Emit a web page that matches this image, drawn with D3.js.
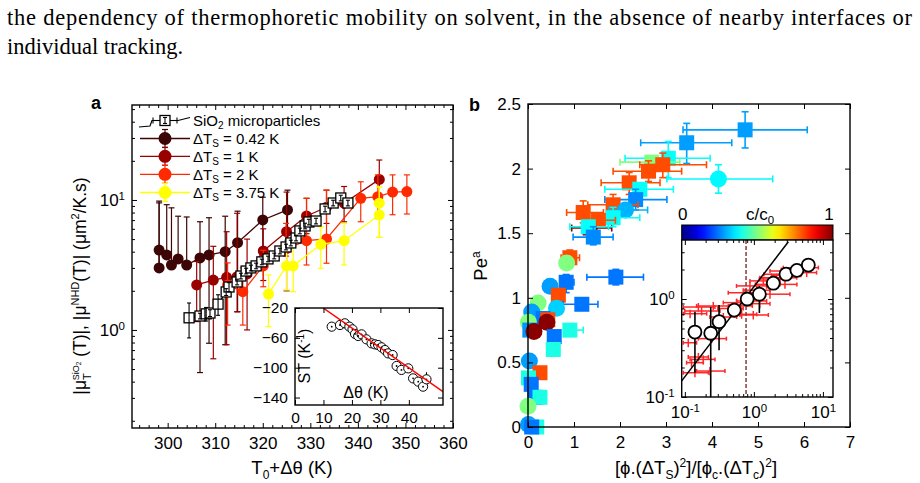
<!DOCTYPE html>
<html>
<head>
<meta charset="utf-8">
<script src="https://cdn.jsdelivr.net/npm/d3@7"></script>
<style>
  body { margin: 0; background: #fff; }
  svg { display: block; font-family: "Liberation Sans", Arial, Helvetica, sans-serif; }
</style>
</head>
<body>
<svg id="fig" width="920" height="483"></svg>
<script>
// ---- panel a: SiO2 microparticles ----
const sio2T = [304.5, 306.8, 308.1, 308.9, 310.6, 312.3, 312.9, 314.6, 315.4, 316.5, 317.5, 318.6, 319.8, 321.1,
  322.4, 323.6, 324.9, 325.9, 327.0, 327.8, 328.9, 329.7, 331.2, 333.1, 334.8, 336.4, 337.9];
const sio2Mu = [1.24, 1.28, 1.33, 1.35, 1.58, 1.96, 2.14, 2.34, 2.60, 2.84, 3.00, 3.11, 3.34, 3.52,
  3.71, 4.05, 4.35, 4.67, 5.10, 5.78, 6.31, 6.77, 6.89, 8.53, 9.48, 10.36, 9.48];
const sio2Err = [0.3, 0.05, 0.12, 0.06, 0.18, 0.06, 0.08, 0.05, 0.05, 0.05, 0.05, 0.05, 0.05, 0.05,
  0.05, 0.05, 0.05, 0.05, 0.05, 0.05, 0.05, 0.05, 0.05, 0.05, 0.05, 0.05, 0.05];

// ---- panel a: NHD at several ΔTs ----
const dTsLabels = ['0.42', '1', '2', '3.75'];
const dTsColors = ['#3d0505', '#990000', '#ff2a00', '#ffff00'];

const nhd042T = [298.2, 298.2, 299.8, 300.8, 302.2, 304.0, 306.8, 308.7, 312.1, 314.7, 320.0, 325.2];
const nhd042Mu = [3.00, 4.12, 3.78, 3.16, 3.52, 3.16, 3.58, 3.78, 4.00, 4.69, 7.02, 8.38];
const nhd042Hi = [9.8, 9.5, 9.2, 8.7, 7.5, 7.4, 6.8, 7.3, 7.5, 8.2, 10.5, 11.9];
const nhd042Lo = [0, 0, 0, 0, 0, 0, 0.47, 0.79, 0.77, 1.38, 3.5, 4.9];

const nhd1T = [306.1, 309.6, 312.4, 314.6, 316.7, 320.1, 325.0, 329.2, 333.4, 337.1, 344.5];
const nhd1Mu = [2.22, 2.42, 2.54, 2.57, 2.70, 4.05, 5.70, 7.53, 8.79, 9.44, 14.4];
const nhd1Hi = [3.36, 4.4, 5.7, 7.9, 5.0, 6.0, 11.5, 10.3, 11.9, 12.7, 20.3];
const nhd1Lo = [1.16, 0.6, 0.77, 1.38, 1.0, 2.4, 2.0, 5.5, 6.6, 6.8, 10.5];

const nhd2T = [312.6, 315.8, 320.1, 324.9, 329.2, 333.4, 340.6, 344.2, 347.3, 350.3];
const nhd2Mu = [2.22, 1.97, 3.11, 4.20, 4.86, 5.01, 10.3, 10.6, 11.5, 11.6];
const nhd2Hi = [3.28, 3.0, 4.1, 6.6, 10.3, 11.9, 13.8, 15.6, 15.6, 15.6];
const nhd2Lo = [1.09, 1.09, 2.15, 3.7, 3.16, 3.26, 6.8, 7.2, 7.7, 7.8];

const nhd375T = [321.2, 325.0, 326.4, 332.2, 337.1, 344.5, 344.5];
const nhd375Mu = [1.89, 3.11, 3.11, 4.56, 4.86, 7.67, 9.44];
const nhd375Hi = [2.65, 4.4, 4.5, 6.2, 6.6, 12.6, 12.6];
const nhd375Lo = [1.06, 2.03, 1.97, 2.98, 3.16, 5.16, 5.16];

// ---- panel a inset: Soret coefficient ----
const insetDtheta = [12.9, 15.8, 17.5, 19.1, 20.2, 21.1, 22.2, 23.4, 25.1, 26.9, 28.1, 29.2, 30.4, 31.6,
  32.7, 34.3, 35.7, 37.4, 39.8, 41.5, 43.3, 45.0, 46.2];
const insetST = [-45, -42.8, -40.5, -45, -48.6, -54.8, -57.5, -55.3, -62, -67.4, -68.7, -69.6, -72.7, -76.3,
  -80.8, -83, -97.7, -103, -100.9, -114.3, -118.7, -125.4, -115.6];
const insetFitX = [9.9, 52];
const insetFitY = [-20, -132];

// ---- panel b: Pe^a vs scaled forcing ----
const peX = [1.35, 4.72, 3.45, 4.14, 3.05, 2.69, 2.93, 2.62, 2.20, 2.43, 2.34, 1.85, 2.12, 1.85, 1.20, 1.53, 1.31, 1.42,
  0.91, 0.84, 0.83, 1.91, 0.48, 0.66, 1.17, 0.22, 0.62, 0.08, 0.33, 0.43, 0.41, 0.01, 0.04, 0.13, 0.57, 0.91, 0.55,
  0.03, 0.26, 0.01, 0.07, 0.15, 0.26, 0.0, 0.01, 0.19, 0.08];
const peY = [1.54, 2.30, 2.20, 1.92, 2.08, 2.05, 2.03, 1.98, 1.89, 1.84, 1.76, 1.72, 1.68, 1.62, 1.66, 1.60, 1.55, 1.47,
  1.31, 1.27, 1.12, 1.16, 1.09, 1.02, 0.95, 0.96, 0.92, 0.89, 0.84, 0.83, 0.81, 0.81, 0.75, 0.74, 0.70, 0.75, 0.60,
  0.51, 0.42, 0.38, 0.33, 0.23, 0.23, 0.16, 0.02, 0.0, 0.0];
const peC = [0.99, 0.28, 0.28, 0.37, 0.38, 0.50, 0.80, 0.80, 0.80, 0.38, 0.26, 0.80, 0.30, 0.38, 0.80, 0.80, 0.38, 0.26,
  0.80, 0.50, 0.24, 0.24, 0.28, 0.80, 0.24, 0.50, 0.33, 0.28, 0.24, 0.80, 0.99, 0.50, 0.27, 0.99, 0.24, 0.40, 0.40,
  0.28, 0.80, 0.40, 0.24, 0.24, 0.40, 0.50, 0.28, 0.40, 0.24];
const peShape = ['s', 's', 's', 'o', 's', 's', 's', 's', 's', 's', 's', 's', 'o', 's', 's', 's', 's', 's',
  's', 'o', 's', 's', 'o', 's', 's', 'o', 'o', 'o', 's', 's', 'o', 'o', 's', 'o', 's', 's', 's',
  'o', 's', 's', 's', 's', 's', 'o', 'o', 's', 's'];
const peXlo = [0.95, 3.37, 2.45, 3.02, 2.11, 2.0, 2.43, 1.85, 1.59, 1.67, 1.67, 1.30, 1.75, 1.30, 0.84, 1.2, 0.91, 0.98,
  0.72, null, 0.72, 1.28, null, null, 0.76, null, null, null, null, null, null, null, null, null, null, 0.8, null,
  null, null, null, null, null, null, null, null, null, null];
const peXhi = [1.82, 6.07, 4.43, 5.32, 3.96, 3.3, 3.88, 3.34, 2.87, 3.16, 3.02, 2.39, 2.6, 2.43, 1.64, 1.9, 1.75, 1.85,
  1.12, null, 1.0, 2.51, null, null, 1.52, null, null, null, null, null, null, null, null, null, null, 1.2, null,
  null, null, null, null, null, null, null, null, null, null];
const peYlo = [null, 2.16, 2.04, 1.81, 1.93, null, 1.93, 1.90, 1.80, null, 1.68, 1.64, null, 1.55, 1.58, null, null, 1.41,
  1.25, null, 1.04, 1.10, null, null, null, null, null, null, null, null, null, null, null, null, null, null, null,
  null, null, null, null, null, null, null, null, null, null];
const peYhi = [null, 2.44, 2.35, 2.03, 2.21, null, 2.12, 2.06, 1.97, null, 1.84, 1.80, null, 1.70, 1.75, null, null, 1.55,
  1.37, null, 1.18, 1.22, null, null, null, null, null, null, null, null, null, null, null, null, null, null, null,
  null, null, null, null, null, null, null, null, null, null];

// ---- panel b inset: log-log ----
const redX = [0.140, 0.231, 0.125, 0.185, 0.157, 0.112, 0.244, 0.119, 0.175, 0.258, 0.361, 0.157, 0.665, 0.98, 0.562,
  0.877, 1.22, 1.71, 0.743, 0.877, 1.37, 2.14, 3.33, 4.92, 5.82, 1.53, 2.82, 2.39, 1.10, 1.9, 3.0, 4.0, 0.45, 0.65];
const redY = [0.177, 0.184, 0.224, 0.242, 0.256, 0.358, 0.394, 0.708, 0.755, 0.849, 0.655, 0.828, 0.698, 0.687, 0.918,
  0.955, 0.896, 1.12, 1.16, 1.36, 1.53, 1.65, 1.93, 2.09, 1.86, 1.41, 1.41, 1.79, 1.23, 1.6, 1.75, 2.0, 0.80, 0.85];
const redXlo = [0.095, 0.148, 0.106, 0.119, 0.112, 0.095, 0.157, 0.095, 0.100, 0.148, 0.231, 0.095, 0.451, 0.628, 0.36,
  0.562, 0.877, 1.22, 0.425, 0.56, 0.877, 1.22, 1.71, 2.67, 3.33, 1.05, 1.71, 1.4, 0.7, 1.2, 1.8, 2.5, 0.3, 0.45];
const redXhi = [0.219, 0.381, 0.185, 0.273, 0.219, 0.148, 0.40, 0.207, 0.323, 0.426, 0.562, 0.273, 1.10, 1.62, 0.877,
  1.53, 1.71, 3.33, 1.37, 1.53, 2.39, 4.17, 6.5, 8.6, 8.1, 2.39, 4.2, 4.0, 1.71, 3.0, 4.8, 6.5, 0.7, 0.95];
const redYrel = 0.1;
const binX = [0.140, 0.237, 0.313, 0.52, 0.80, 1.2, 1.91, 2.92, 4.2, 6.15];
const binY = [0.46, 0.447, 0.587, 0.77, 1.0, 1.12, 1.45, 1.79, 1.96, 2.22];
const binLo = [0.177, 0.08, 0.30, 0.655, 0.93, 0.72, 1.38, 1.72, 1.9, 2.16];
const binHi = [0.74, 0.83, 0.87, 0.87, 1.08, 1.36, 1.52, 1.86, 2.02, 2.28];
const fitX = [0.09, 3.16];
const fitY = [0.146, 3.84];
const critX = 0.77;

// ---------------------------------------------------------------
const svg = d3.select('#fig');
const tickFont = '17px';
const titleFont = '18.5px';

function jet(c) {
  const f = v => Math.max(0, Math.min(1, 1.5 - Math.abs(v)));
  return d3.rgb(255 * f(4 * c - 3), 255 * f(4 * c - 2), 255 * f(4 * c - 1)).formatHex();
}

function logMinors(lo, hi) {
  const out = [];
  for (let e = -3; e <= 3; e++) {
    for (let m = 2; m <= 9; m++) {
      const v = m * Math.pow(10, e);
      if (v > lo && v < hi) out.push(v);
    }
  }
  return out;
}

// inward ticks on all four sides, labels on bottom/left only
function frame(g, x, y, box, xMajor, xMinor, yMajor, yMinor, xFmt, yFmt, fs) {
  const styleAxis = sel => {
    sel.select('.domain').remove();
    sel.selectAll('.tick line').attr('stroke', '#000').attr('stroke-width', 1);
    sel.selectAll('.tick text').attr('fill', '#000').style('font-size', fs || tickFont);
  };
  g.append('g').attr('class', 'ax-bottom').attr('transform', `translate(0,${box.b})`)
    .call(d3.axisBottom(x).tickValues(xMajor).tickSize(-5).tickPadding(9).tickFormat(xFmt)).call(styleAxis);
  g.append('g').attr('transform', `translate(0,${box.b})`)
    .call(d3.axisBottom(x).tickValues(xMinor).tickSize(-3).tickFormat('')).call(styleAxis);
  g.append('g').attr('transform', `translate(0,${box.t})`)
    .call(d3.axisTop(x).tickValues(xMajor).tickSize(-5).tickFormat('')).call(styleAxis);
  g.append('g').attr('transform', `translate(0,${box.t})`)
    .call(d3.axisTop(x).tickValues(xMinor).tickSize(-3).tickFormat('')).call(styleAxis);
  g.append('g').attr('class', 'ax-left').attr('transform', `translate(${box.l},0)`)
    .call(d3.axisLeft(y).tickValues(yMajor).tickSize(-5).tickPadding(7).tickFormat(yFmt)).call(styleAxis);
  g.append('g').attr('transform', `translate(${box.l},0)`)
    .call(d3.axisLeft(y).tickValues(yMinor).tickSize(-3).tickFormat('')).call(styleAxis);
  g.append('g').attr('transform', `translate(${box.r},0)`)
    .call(d3.axisRight(y).tickValues(yMajor).tickSize(-5).tickFormat('')).call(styleAxis);
  g.append('g').attr('transform', `translate(${box.r},0)`)
    .call(d3.axisRight(y).tickValues(yMinor).tickSize(-3).tickFormat('')).call(styleAxis);
  g.append('rect').attr('x', box.l).attr('y', box.t)
    .attr('width', box.r - box.l).attr('height', box.b - box.t)
    .attr('fill', 'none').attr('stroke', '#000').attr('stroke-width', 1.4);
}

function powerLabels(axisG) {
  axisG.selectAll('.tick text').each(function (d) {
    const e = Math.round(Math.log10(d));
    const t = d3.select(this);
    t.text('10');
    t.append('tspan').attr('dy', '-0.55em').style('font-size', '11.5px').text(e);
  });
}

function bar(g, x1, y1, x2, y2, color, w) {
  g.append('line').attr('x1', x1).attr('y1', y1).attr('x2', x2).attr('y2', y2)
    .attr('stroke', color).attr('stroke-width', w);
}

// vertical error bar with caps; lower end dropped when not positive on log axes
function vErr(g, px, yPx, loPx, hiPx, color, cap, w) {
  if (hiPx != null) { bar(g, px, yPx, px, hiPx, color, w); bar(g, px - cap, hiPx, px + cap, hiPx, color, w); }
  if (loPx != null) { bar(g, px, yPx, px, loPx, color, w); bar(g, px - cap, loPx, px + cap, loPx, color, w); }
}
function hErr(g, py, loPx, hiPx, color, cap, w) {
  bar(g, loPx, py, hiPx, py, color, w);
  bar(g, loPx, py - cap, loPx, py + cap, color, w);
  bar(g, hiPx, py - cap, hiPx, py + cap, color, w);
}

// ---------------- top text ----------------
svg.append('text').attr('x', 7).attr('y', 25)
  .attr('textLength', 905).attr('lengthAdjust', 'spacing')
  .style('font-family', '"Liberation Serif", "Times New Roman", serif').style('font-size', '22.5px')
  .text('the dependency of thermophoretic mobility on solvent, in the absence of nearby interfaces or');
svg.append('text').attr('x', 7).attr('y', 54)
  .style('font-family', '"Liberation Serif", "Times New Roman", serif').style('font-size', '22.5px')
  .text('individual tracking.');

// ---------------- panel a ----------------
const boxA = { l: 132, r: 453, t: 105, b: 428 };
const xA = d3.scaleLinear().domain([292.5, 360]).range([boxA.l, boxA.r]);
const yA = d3.scaleLog().domain([0.176, 53.8]).range([boxA.b, boxA.t]);

const gA = svg.append('g');
gA.append('clipPath').attr('id', 'clipA').append('rect')
  .attr('x', boxA.l).attr('y', boxA.t).attr('width', boxA.r - boxA.l).attr('height', boxA.b - boxA.t);
const plotA = gA.append('g').attr('clip-path', 'url(#clipA)');

const nhdSeries = [
  { T: nhd042T, mu: nhd042Mu, lo: nhd042Lo, hi: nhd042Hi },
  { T: nhd1T, mu: nhd1Mu, lo: nhd1Lo, hi: nhd1Hi },
  { T: nhd2T, mu: nhd2Mu, lo: nhd2Lo, hi: nhd2Hi },
  { T: nhd375T, mu: nhd375Mu, lo: nhd375Lo, hi: nhd375Hi }
];
const lineA = d3.line().x(d => xA(d[0])).y(d => yA(d[1]));

nhdSeries.forEach((s, k) => {
  const col = dTsColors[k];
  const sg = plotA.append('g');
  s.T.forEach((t, i) => {
    vErr(sg, xA(t), yA(s.mu[i]), s.lo[i] > 0 ? yA(s.lo[i]) : null, yA(s.hi[i]), col, 3, 1.2);
  });
  sg.append('path').datum(s.T.map((t, i) => [t, s.mu[i]]))
    .attr('d', lineA).attr('fill', 'none').attr('stroke', col).attr('stroke-width', 1.3);
  sg.selectAll('circle').data(s.T.map((t, i) => [t, s.mu[i]])).join('circle')
    .attr('cx', d => xA(d[0])).attr('cy', d => yA(d[1])).attr('r', 5.5).attr('fill', col);
});

const sio2Pts = sio2T.map((t, i) => [t, sio2Mu[i], sio2Err[i]]);
plotA.append('path').datum(sio2Pts).attr('d', lineA)
  .attr('fill', 'none').attr('stroke', '#000').attr('stroke-width', 1.2);
plotA.selectAll('rect.sio2').data(sio2Pts).join('rect').attr('class', 'sio2')
  .attr('x', d => xA(d[0]) - 5).attr('y', d => yA(d[1]) - 5).attr('width', 10).attr('height', 10)
  .attr('fill', '#fff').attr('stroke', '#000').attr('stroke-width', 1.3);
sio2Pts.forEach(d => {
  vErr(plotA, xA(d[0]), yA(d[1]), yA(d[1] * (1 - d[2])), yA(d[1] * (1 + d[2])), '#000', 2, 1.1);
});

frame(gA, xA, yA, boxA,
  d3.range(300, 361, 10), d3.range(294, 360, 2).filter(v => v % 10 !== 0),
  [1, 10], logMinors(0.176, 53.8), d3.format('d'), d => d);
powerLabels(gA.select('.ax-left'));

// legend
const legRows = [120.5, 138.5, 156.3, 174.3, 192.5];
const legA = gA.append('g');
legA.append('path').attr('d', 'M139,127 L150,126 L152,120.5 L178,120.5 L190,117.5')
  .attr('fill', 'none').attr('stroke', '#000').attr('stroke-width', 1.2);
hErr(legA, 120.5, 153, 177, '#000', 3, 1.1);
legA.append('rect').attr('x', 160).attr('y', 115.5).attr('width', 10).attr('height', 10)
  .attr('fill', '#fff').attr('stroke', '#000').attr('stroke-width', 1.3);
vErr(legA, 165, 120.5, 123.5, 117.5, '#000', 2, 1.1);
const t0 = legA.append('text').attr('x', 193).attr('y', legRows[0] + 5).style('font-size', '15px');
t0.append('tspan').text('SiO');
t0.append('tspan').attr('dy', 3).style('font-size', '10px').text('2');
t0.append('tspan').attr('dy', -3).text(' microparticles');
dTsLabels.forEach((lab, k) => {
  const y = legRows[k + 1];
  bar(legA, 140, y, 190, y, dTsColors[k], 1.3);
  vErr(legA, 165, y, y + 9, y - 9, dTsColors[k], 3, 1.2);
  legA.append('circle').attr('cx', 165).attr('cy', y).attr('r', 6.5).attr('fill', dTsColors[k]);
  const tt = legA.append('text').attr('x', 193).attr('y', y + 5.5).style('font-size', '15px');
  tt.append('tspan').text('ΔT');
  tt.append('tspan').attr('dy', 3).style('font-size', '10px').text('S');
  tt.append('tspan').attr('dy', -3).text(` = ${lab} K`);
});

// labels
gA.append('text').attr('x', 91).attr('y', 109).style('font-size', '18px').style('font-weight', 'bold').text('a');
const xtA = gA.append('text').attr('x', 292).attr('y', 474).attr('text-anchor', 'middle').style('font-size', titleFont);
xtA.append('tspan').text('T');
xtA.append('tspan').attr('dy', 5).style('font-size', '12px').text('0');
xtA.append('tspan').attr('dy', -5).text('+Δθ (K)');
const ytA = gA.append('text').attr('transform', 'translate(86,286) rotate(-90)')
  .attr('text-anchor', 'middle').style('font-size', '17.5px');
ytA.append('tspan').text('|μ');
ytA.append('tspan').attr('dy', 5).style('font-size', '11px').text('T');
ytA.append('tspan').attr('dx', -7).attr('dy', -12).style('font-size', '9px').text('SiO');
ytA.append('tspan').attr('dy', 2).style('font-size', '6.5px').text('2');
ytA.append('tspan').attr('dy', 5).text(' (T)|, |μ');
ytA.append('tspan').attr('dy', -7).style('font-size', '11px').text('NHD');
ytA.append('tspan').attr('dy', 7).text('(T)| (μm');
ytA.append('tspan').attr('dy', -7).style('font-size', '11px').text('2');
ytA.append('tspan').attr('dy', 7).text('/K.s)');

// inset a
const boxIA = { l: 295, r: 443, t: 308, b: 405 };
const xIA = d3.scaleLinear().domain([0, 52]).range([boxIA.l, boxIA.r]);
const yIA = d3.scaleLinear().domain([-150, -20]).range([boxIA.b, boxIA.t]);
const gIA = svg.append('g');
gIA.append('rect').attr('x', boxIA.l).attr('y', boxIA.t).attr('width', boxIA.r - boxIA.l)
  .attr('height', boxIA.b - boxIA.t).attr('fill', '#fff');
gIA.append('clipPath').attr('id', 'clipIA').append('rect')
  .attr('x', boxIA.l).attr('y', boxIA.t).attr('width', boxIA.r - boxIA.l).attr('height', boxIA.b - boxIA.t);
const plotIA = gIA.append('g').attr('clip-path', 'url(#clipIA)');
vErr(plotIA, xIA(46.2), yIA(-115.6), null, yIA(-106), '#000', 0, 1);
plotIA.selectAll('circle').data(insetDtheta.map((d, i) => [d, insetST[i]])).join('circle')
  .attr('cx', d => xIA(d[0])).attr('cy', d => yIA(d[1])).attr('r', 4.6)
  .attr('fill', '#fff').attr('stroke', '#000').attr('stroke-width', 1);
plotIA.selectAll('circle.dot').data(insetDtheta.map((d, i) => [d, insetST[i]])).join('circle').attr('class', 'dot')
  .attr('cx', d => xIA(d[0])).attr('cy', d => yIA(d[1])).attr('r', 0.9).attr('fill', '#000');
plotIA.append('line').attr('x1', xIA(insetFitX[0])).attr('y1', yIA(insetFitY[0]))
  .attr('x2', xIA(insetFitX[1])).attr('y2', yIA(insetFitY[1])).attr('stroke', '#ff0000').attr('stroke-width', 1.5);
frame(gIA, xIA, yIA, boxIA, [0, 10, 20, 30, 40], [], [-140, -100, -60, -20], [], d3.format('d'), d3.format('d'), '15.5px');
gIA.select('.ax-bottom').selectAll('.tick text').attr('dy', '0.6em');
const stl = gIA.append('text').attr('transform', 'translate(310,356) rotate(-90)')
  .attr('text-anchor', 'middle').style('font-size', '16px');
stl.append('tspan').text('ST (K');
stl.append('tspan').attr('dy', -6).style('font-size', '10px').text('-1');
stl.append('tspan').attr('dy', 6).text(')');
gIA.append('text').attr('x', 366).attr('y', 398).attr('text-anchor', 'middle').style('font-size', '16px').text('Δθ (K)');

// ---------------- panel b ----------------
const boxB = { l: 528, r: 850, t: 104, b: 427 };
const xB = d3.scaleLinear().domain([0, 7]).range([boxB.l, boxB.r]);
const yB = d3.scaleLinear().domain([0, 2.5]).range([boxB.b, boxB.t]);
const gB = svg.append('g');
const plotB = gB.append('g');

peX.forEach((x, i) => {
  const col = jet(peC[i]);
  const px = xB(x), py = yB(peY[i]);
  if (peXlo[i] != null) hErr(plotB, py, xB(peXlo[i]), xB(peXhi[i]), col, 3.5, 1.6);
  if (peYlo[i] != null) vErr(plotB, px, py, yB(peYlo[i]), yB(peYhi[i]), col, 3.5, 1.6);
  if (peShape[i] === 's') {
    plotB.append('rect').attr('x', px - 7.5).attr('y', py - 7.5).attr('width', 15).attr('height', 15).attr('fill', col);
  } else {
    plotB.append('circle').attr('cx', px).attr('cy', py).attr('r', 8.5).attr('fill', col);
  }
});

frame(gB, xB, yB, boxB, d3.range(0, 7.01, 1), [], d3.range(0, 2.51, 0.5), [], d3.format('d'), d3.format('~g'));
gB.append('text').attr('x', 469).attr('y', 111).style('font-size', '18px').style('font-weight', 'bold').text('b');
const ytB = gB.append('text').attr('transform', 'translate(487,266) rotate(-90)')
  .attr('text-anchor', 'middle').style('font-size', titleFont);
ytB.append('tspan').text('Pe');
ytB.append('tspan').attr('dy', -7).style('font-size', '12px').text('a');
const xtB = gB.append('text').attr('x', 696).attr('y', 474).attr('text-anchor', 'middle').style('font-size', titleFont);
xtB.append('tspan').text('[ϕ.(ΔT');
xtB.append('tspan').attr('dy', 5).style('font-size', '12px').text('S');
xtB.append('tspan').attr('dy', -5).text(')');
xtB.append('tspan').attr('dy', -7).style('font-size', '12px').text('2');
xtB.append('tspan').attr('dy', 7).text(']/[ϕ');
xtB.append('tspan').attr('dy', 5).style('font-size', '12px').text('c');
xtB.append('tspan').attr('dy', -5).text('.(ΔT');
xtB.append('tspan').attr('dy', 5).style('font-size', '12px').text('c');
xtB.append('tspan').attr('dy', -5).text(')');
xtB.append('tspan').attr('dy', -7).style('font-size', '12px').text('2');
xtB.append('tspan').attr('dy', 7).text(']');

// colorbar
const cb = { l: 681.7, r: 833, t: 225, b: 240 };
const grad = svg.append('defs').append('linearGradient').attr('id', 'jetGrad');
d3.range(0, 1.0001, 0.05).forEach(c => grad.append('stop').attr('offset', c).attr('stop-color', jet(c)));
gB.append('rect').attr('x', cb.l).attr('y', cb.t).attr('width', cb.r - cb.l).attr('height', cb.b - cb.t)
  .attr('fill', 'url(#jetGrad)').attr('stroke', '#000').attr('stroke-width', 1);
gB.append('text').attr('x', cb.l + 1).attr('y', 220).attr('text-anchor', 'middle').style('font-size', tickFont).text('0');
gB.append('text').attr('x', 829).attr('y', 220).attr('text-anchor', 'middle').style('font-size', tickFont).text('1');
const cl = gB.append('text').attr('x', 760).attr('y', 220).attr('text-anchor', 'middle').style('font-size', tickFont);
cl.append('tspan').text('c/c');
cl.append('tspan').attr('dy', 4).style('font-size', '11.5px').text('0');

// inset b
const boxIB = { l: 681.7, r: 833, t: 240, b: 397 };
const xIB = d3.scaleLog().domain([0.09, 14]).range([boxIB.l, boxIB.r]);
const yIB = d3.scaleLog().domain([0.1, 4]).range([boxIB.b, boxIB.t]);
const gIB = svg.append('g');
gIB.append('rect').attr('x', boxIB.l).attr('y', boxIB.t).attr('width', boxIB.r - boxIB.l)
  .attr('height', boxIB.b - boxIB.t).attr('fill', '#fff');
gIB.append('clipPath').attr('id', 'clipIB').append('rect')
  .attr('x', boxIB.l).attr('y', boxIB.t).attr('width', boxIB.r - boxIB.l).attr('height', boxIB.b - boxIB.t);
const plotIB = gIB.append('g').attr('clip-path', 'url(#clipIB)');

const redG = plotIB.append('g').attr('opacity', 0.9);
redX.forEach((x, i) => {
  const px = xIB(x), py = yIB(redY[i]);
  hErr(redG, py, xIB(redXlo[i]), xIB(redXhi[i]), '#ff1010', 2, 1.5);
  vErr(redG, px, py, yIB(redY[i] * (1 - redYrel)), yIB(redY[i] * (1 + redYrel)), '#ff1010', 0, 1.5);
});
plotIB.append('line').attr('x1', xIB(critX)).attr('x2', xIB(critX)).attr('y1', boxIB.t).attr('y2', boxIB.b)
  .attr('stroke', '#8a3a3a').attr('stroke-width', 1.5).attr('stroke-dasharray', '4,2');
plotIB.append('line').attr('x1', xIB(fitX[0])).attr('y1', yIB(fitY[0]))
  .attr('x2', xIB(fitX[1])).attr('y2', yIB(fitY[1])).attr('stroke', '#000').attr('stroke-width', 1.5);
binX.forEach((x, i) => {
  vErr(plotIB, xIB(x), yIB(binY[i]), yIB(binLo[i]), yIB(binHi[i]), '#000', 0, 1.6);
});
plotIB.selectAll('circle').data(binX.map((x, i) => [x, binY[i]])).join('circle')
  .attr('cx', d => xIB(d[0])).attr('cy', d => yIB(d[1])).attr('r', 6.5)
  .attr('fill', '#fff').attr('stroke', '#000').attr('stroke-width', 1.8);

frame(gIB, xIB, yIB, boxIB, [0.1, 1, 10], logMinors(0.09, 14), [0.1, 1], logMinors(0.1, 4), d => d, d => d);
powerLabels(gIB.select('.ax-bottom'));
powerLabels(gIB.select('.ax-left'));
</script>
</body>
</html>
